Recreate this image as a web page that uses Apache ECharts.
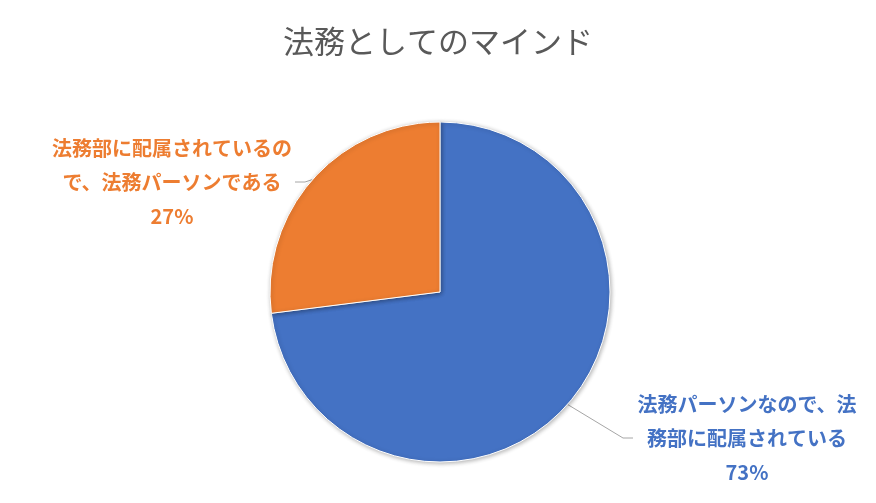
<!DOCTYPE html>
<html><head><meta charset="utf-8">
<script src="https://cdn.jsdelivr.net/npm/echarts@6/dist/echarts.min.js"></script>
<style>html,body{margin:0;padding:0;background:#fff}#c{width:876px;height:503px}</style>
</head><body><div id="c"></div>
<script>
const title = '法務としてのマインド';
const categories = ['法務パーソンなので、法務部に配属されている', '法務部に配属されているので、法務パーソンである'];
const values = [73, 27];
const colors = ['#4472C4', '#ED7D31'];
const labelWidths = [228, 246];
const labelPos = [[747, 438], [172, 182]];

const chart = echarts.init(document.getElementById('c'));
chart.setOption({
  backgroundColor: '#fff',
  animation: false,
  title: {
    text: title, left: 'center', top: 21,
    textStyle: {fontFamily: 'Noto Sans CJK JP', fontSize: 31, fontWeight: 'normal', color: '#595959'}
  },
  series: [{
    type: 'pie',
    center: [440, 292],
    radius: 170,
    startAngle: 90,
    clockwise: true,
    itemStyle: {borderColor: '#fff', borderWidth: 1, shadowBlur: 4, shadowColor: 'rgba(0,0,0,0.3)', shadowOffsetX: 1, shadowOffsetY: 1},
    labelLine: {show: true, length: 15, length2: 10, lineStyle: {color: '#A6A6A6', width: 1}},
    label: {
      show: true,
      formatter: p => p.name + '\n' + Math.round(p.percent) + '%',
      fontFamily: 'Noto Sans CJK JP', fontSize: 20, fontWeight: 'bold',
      lineHeight: 34, align: 'center', overflow: 'break'
    },
    labelLayout: function (p) {
      const pos = labelPos[p.dataIndex];
      return {x: pos[0], y: pos[1], align: 'center', verticalAlign: 'middle'};
    },
    data: categories.map((n, i) => ({
      name: n, value: values[i],
      itemStyle: {color: colors[i]},
      label: {color: colors[i], width: labelWidths[i]}
    }))
  }]
});
</script></body></html>
